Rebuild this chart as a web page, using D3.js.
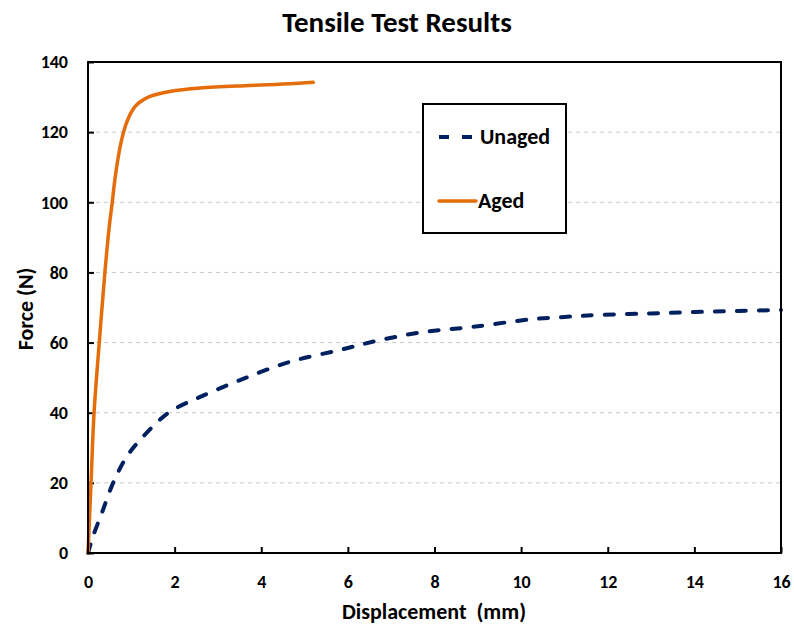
<!DOCTYPE html>
<html>
<head>
<meta charset="utf-8">
<script src="https://cdn.jsdelivr.net/npm/d3@7"></script>
<style>
    body { margin: 0; background: #fff; }
    svg text { font-family: Calibri, Carlito, Lato, "Open Sans", sans-serif; font-weight: bold; }
</style>
</head>
<body>
<script>
// Displacement (mm) / Force (N)
var unagedX = [0, 0.1, 0.32, 0.58, 0.89, 1.2, 1.66, 1.96, 2.59, 3.51, 4.66, 5.82, 6.74, 7.74, 8.9, 10.2, 11.0, 11.82, 13.0, 14.0, 15.0, 16.0];
var unagedY = [0, 4.2, 11.4, 20, 27.4, 32.2, 38, 40.8, 44.5, 49.3, 54.5, 57.9, 60.7, 63, 64.5, 66.6, 67.3, 67.9, 68.3, 68.7, 69.0, 69.3];

var agedX = [0, 0.035, 0.07, 0.14, 0.26, 0.39, 0.49, 0.56, 0.62, 0.7, 0.78, 0.87, 0.97, 1.08, 1.2, 1.43, 1.89, 2.59, 3.74, 4.5, 5.2];
var agedY = [0, 10, 20, 40, 60, 80, 93, 100, 106.4, 113, 118, 122, 125, 127.2, 128.6, 130.2, 131.6, 132.6, 133.3, 133.7, 134.2];

var xTicks = [0, 2, 4, 6, 8, 10, 12, 14, 16];
var yTicks = [0, 20, 40, 60, 80, 100, 120, 140];

function init() {
    var w = 794, h = 629;
    var plotLeft = 88, plotRight = 781, plotTop = 62, plotBottom = 553;

    var svg = d3.select("body").append("svg")
        .attr("width", w)
        .attr("height", h);

    var xScale = d3.scaleLinear().domain([0, 16]).range([plotLeft, plotRight]);
    var yScale = d3.scaleLinear().domain([0, 140]).range([plotBottom, plotTop]);

    // gridlines
    svg.selectAll("line.grid")
        .data(yTicks.slice(1, -1))
        .enter()
        .append("line")
        .attr("class", "grid")
        .attr("x1", plotLeft)
        .attr("x2", plotRight)
        .attr("y1", function (d) { return yScale(d); })
        .attr("y2", function (d) { return yScale(d); })
        .attr("stroke", "#c8c8c8")
        .attr("stroke-width", 1)
        .attr("stroke-dasharray", "4,4");

    // axes, ticks point inward
    var xAxis = svg.append("g")
        .attr("transform", "translate(0," + plotBottom + ")")
        .call(d3.axisBottom(xScale).tickValues(xTicks).tickSizeInner(-6).tickSizeOuter(0).tickPadding(22));

    var yAxis = svg.append("g")
        .attr("transform", "translate(" + plotLeft + ",0)")
        .call(d3.axisLeft(yScale).tickValues(yTicks).tickSizeInner(-6).tickSizeOuter(0).tickPadding(20));

    [xAxis, yAxis].forEach(function (g) {
        g.select(".domain").remove();
        g.selectAll(".tick line").attr("stroke", "#000").attr("stroke-width", 2);
        g.selectAll(".tick text").attr("font-size", 18).attr("fill", "#000");
    });

    // lines
    var unaged = unagedX.map(function (d, i) { return [d, unagedY[i]]; });
    var aged = agedX.map(function (d, i) { return [d, agedY[i]]; });

    var line = d3.line()
        .x(function (d) { return xScale(d[0]); })
        .y(function (d) { return yScale(d[1]); })
        .curve(d3.curveCatmullRom.alpha(0.5));

    svg.append("path")
        .datum(unaged)
        .attr("d", line)
        .attr("fill", "none")
        .attr("stroke", "#002060")
        .attr("stroke-width", 4)
        .attr("stroke-linecap", "round")
        .attr("stroke-dasharray", "9,13");

    svg.append("path")
        .datum(aged)
        .attr("d", line)
        .attr("fill", "none")
        .attr("stroke", "#E46C0A")
        .attr("stroke-width", 3.5)
        .attr("stroke-linecap", "round");

    // plot border
    svg.append("rect")
        .attr("x", plotLeft)
        .attr("y", plotTop)
        .attr("width", plotRight - plotLeft)
        .attr("height", plotBottom - plotTop)
        .attr("fill", "none")
        .attr("stroke", "#000")
        .attr("stroke-width", 2);

    // legend
    var legend = svg.append("g");
    legend.append("rect")
        .attr("x", 423)
        .attr("y", 104)
        .attr("width", 143)
        .attr("height", 129)
        .attr("fill", "#fff")
        .attr("stroke", "#000")
        .attr("stroke-width", 2);

    legend.append("line")
        .attr("x1", 439).attr("x2", 472)
        .attr("y1", 137).attr("y2", 137)
        .attr("stroke", "#002060")
        .attr("stroke-width", 4)
        .attr("stroke-dasharray", "10,13");
    legend.append("text")
        .attr("x", 480).attr("y", 144)
        .attr("font-size", 22)
        .text("Unaged");

    legend.append("line")
        .attr("x1", 439).attr("x2", 476)
        .attr("y1", 201).attr("y2", 201)
        .attr("stroke", "#E46C0A")
        .attr("stroke-width", 3.5)
        .attr("stroke-linecap", "round");
    legend.append("text")
        .attr("x", 478).attr("y", 208)
        .attr("font-size", 22)
        .text("Aged");

    // titles
    svg.append("text")
        .attr("x", 397).attr("y", 32)
        .attr("text-anchor", "middle")
        .attr("font-size", 29)
        .text("Tensile Test Results");

    svg.append("text")
        .attr("x", 434).attr("y", 619)
        .attr("text-anchor", "middle")
        .attr("font-size", 22)
        .style("white-space", "pre")
        .text("Displacement  (mm)");

    svg.append("text")
        .attr("transform", "translate(33,309) rotate(-90)")
        .attr("text-anchor", "middle")
        .attr("font-size", 22)
        .text("Force (N)");
}

window.onload = init;
</script>
</body>
</html>
